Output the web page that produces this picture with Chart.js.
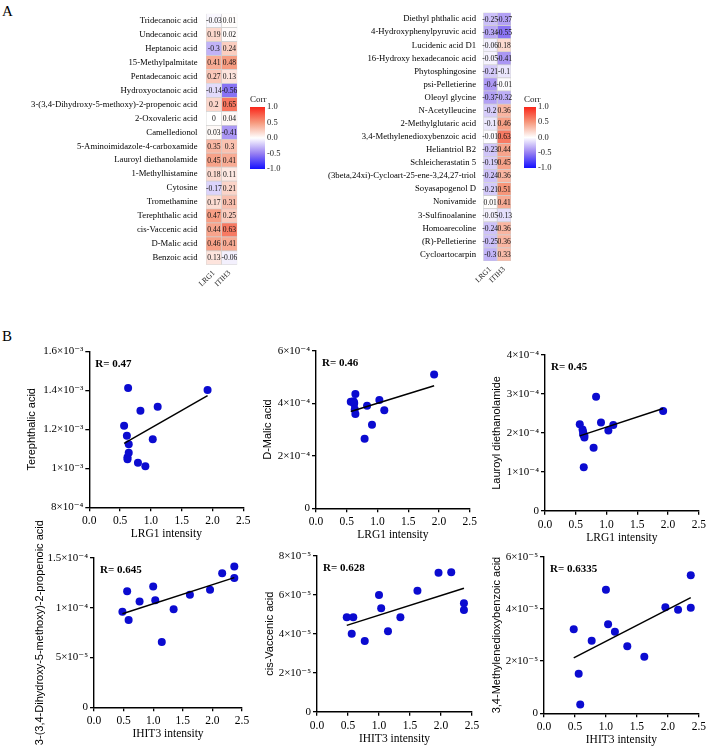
<!DOCTYPE html>
<html><head><meta charset="utf-8">
<script src="https://cdn.jsdelivr.net/npm/chart.js@4.4.1/dist/chart.umd.min.js"></script>
<style>
html,body{margin:0;padding:0;background:#fff;}
#wrap{position:relative;width:709px;height:746px;overflow:hidden;background:#fff;}
#wrap canvas{position:absolute;left:0;top:0;}
.panel{position:absolute;font:15px 'Liberation Serif','Times New Roman',serif;line-height:1;color:#000;}
</style></head><body>
<div id="wrap">
<div class="panel" style="left:2px;top:4px">A</div>
<div class="panel" style="left:2px;top:329px">B</div>
</div>
<script>
// ---------- Heatmap data (panel A) ----------
const columnLabels = ['LRG1', 'ITIH3'];

const metabolitesLeft = ['Tridecanoic acid','Undecanoic acid','Heptanoic acid','15-Methylpalmitate','Pentadecanoic acid','Hydroxyoctanoic acid','3-(3,4-Dihydroxy-5-methoxy)-2-propenoic acid','2-Oxovaleric acid','Camelledionol','5-Aminoimidazole-4-carboxamide','Lauroyl diethanolamide','1-Methylhistamine','Cytosine','Tromethamine','Terephthalic acid','cis-Vaccenic acid','D-Malic acid','Benzoic acid'];
const lrg1Left  = [-0.03,0.19,-0.3,0.41,0.27,-0.14,0.2,0,0.03,0.35,0.45,0.18,-0.17,0.17,0.47,0.44,0.46,0.13];
const itih3Left = [0.01,0.02,0.24,0.48,0.13,-0.56,0.65,0.04,-0.41,0.3,0.41,0.11,0.21,0.31,0.25,0.63,0.41,-0.06];

const metabolitesRight = ['Diethyl phthalic acid','4-Hydroxyphenylpyruvic acid','Lucidenic acid D1','16-Hydroxy hexadecanoic acid','Phytosphingosine','psi-Pelletierine','Oleoyl glycine','N-Acetylleucine','2-Methylglutaric acid','3,4-Methylenedioxybenzoic acid','Heliantriol B2','Schleicherastatin 5','(3beta,24xi)-Cycloart-25-ene-3,24,27-triol','Soyasapogenol D','Nonivamide','3-Sulfinoalanine','Homoarecoline','(R)-Pelletierine','Cycloartocarpin'];
const lrg1Right  = [-0.25,-0.34,-0.06,-0.05,-0.21,-0.4,-0.37,-0.2,-0.1,-0.01,-0.23,-0.19,-0.24,-0.21,0.01,-0.05,-0.24,-0.25,-0.3];
const itih3Right = [-0.37,-0.55,0.18,-0.41,-0.1,-0.01,-0.32,0.36,0.46,0.63,0.44,0.45,0.36,0.51,0.41,-0.13,0.36,0.36,0.33];

const colorbarTicks = [-1, -0.5, 0, 0.5, 1];
const colorbarLabels = ['-1.0', '-0.5', '0.0', '0.5', '1.0'];

// ---------- Scatter data (panel B) ----------
const xTickValues = [0, 0.5, 1, 1.5, 2, 2.5];
const xTickLabels = ['0.0', '0.5', '1.0', '1.5', '2.0', '2.5'];

const lrg1Intensity = [0.565, 0.61, 0.62, 0.62, 0.63, 0.64, 0.64, 0.79, 0.83, 0.91, 1.03, 1.11, 1.92];
const terephthalicAcid = [1.218e-3, 1.167e-3, 1.057e-3, 1.047e-3, 1.412e-3, 1.123e-3, 1.080e-3, 1.029e-3, 1.295e-3, 1.010e-3, 1.149e-3, 1.316e-3, 1.401e-3];
const dMalicAcid = [4.06e-4, 4.08e-4, 4.02e-4, 3.98e-4, 3.77e-4, 3.59e-4, 4.35e-4, 2.65e-4, 3.91e-4, 3.18e-4, 4.13e-4, 3.74e-4, 5.10e-4];
const lauroylDiethanolamide = [2.22e-4, 2.09e-4, 2.02e-4, 1.96e-4, 1.12e-4, 1.88e-4, 1.93e-4, 1.62e-4, 2.93e-4, 2.27e-4, 2.06e-4, 2.20e-4, 2.56e-4];

const ihit3Intensity = [0.48, 0.56, 0.585, 0.77, 1.0, 1.035, 1.145, 1.345, 1.62, 1.96, 2.165, 2.37, 2.37];
const dihydroxyPropenoic = [0.959e-4, 1.167e-4, 0.878e-4, 1.062e-4, 1.213e-4, 1.076e-4, 0.657e-4, 0.986e-4, 1.130e-4, 1.180e-4, 1.348e-4, 1.414e-4, 1.298e-4];
const cisVaccenicAcid = [4.84e-5, 4.00e-5, 4.84e-5, 3.63e-5, 5.98e-5, 5.30e-5, 4.12e-5, 4.84e-5, 6.20e-5, 7.13e-5, 7.15e-5, 5.56e-5, 5.22e-5];
const methylenedioxybenzoic = [3.22e-5, 1.52e-5, 0.34e-5, 2.78e-5, 4.74e-5, 3.41e-5, 3.13e-5, 2.57e-5, 2.17e-5, 4.07e-5, 3.97e-5, 5.29e-5, 4.05e-5];

const ticksTerephthalic = [8e-4, 1e-3, 1.2e-3, 1.4e-3, 1.6e-3];
const labelsTerephthalic = ['8×10⁻⁴', '1×10⁻³', '1.2×10⁻³', '1.4×10⁻³', '1.6×10⁻³'];
const ticksDMalic = [0, 2e-4, 4e-4, 6e-4];
const labelsDMalic = ['0', '2×10⁻⁴', '4×10⁻⁴', '6×10⁻⁴'];
const ticksLauroyl = [0, 1e-4, 2e-4, 3e-4, 4e-4];
const labelsLauroyl = ['0', '1×10⁻⁴', '2×10⁻⁴', '3×10⁻⁴', '4×10⁻⁴'];
const ticksDihydroxy = [0, 5e-5, 1e-4, 1.5e-4];
const labelsDihydroxy = ['0', '5×10⁻⁵', '1×10⁻⁴', '1.5×10⁻⁴'];
const ticksVaccenic = [0, 2e-5, 4e-5, 6e-5, 8e-5];
const labelsVaccenic = ['0', '2×10⁻⁵', '4×10⁻⁵', '6×10⁻⁵', '8×10⁻⁵'];
const ticksMethylene = [0, 2e-5, 4e-5, 6e-5];
const labelsMethylene = ['0', '2×10⁻⁵', '4×10⁻⁵', '6×10⁻⁵'];

// ---------- helpers ----------
const SERIF = "'Liberation Serif','Times New Roman','DejaVu Serif',serif";
const SANS = "'Liberation Sans',Arial,'DejaVu Sans',sans-serif";
const W = 709, H = 746;
Chart.defaults.font.family = SERIF;
Chart.defaults.color = '#000';
Chart.defaults.animation = false;
Chart.defaults.events = [];
Chart.defaults.plugins.legend.display = false;
Chart.defaults.plugins.tooltip.enabled = false;

const wrap = document.getElementById('wrap');
function newCtx() {
  const c = document.createElement('canvas');
  c.width = W; c.height = H;
  c.style.width = W + 'px'; c.style.height = H + 'px';
  wrap.appendChild(c);
  return c.getContext('2d');
}

const cStops = [-1, -0.5, 0, 0.5, 1];
const cRGB = [[20,16,255],[152,128,242],[255,255,255],[246,152,124],[250,38,26]];
function corrColor(v) {
  v = Math.max(-1, Math.min(1, v));
  let i = 0;
  while (i < cStops.length - 2 && v > cStops[i + 1]) i++;
  const t = (v - cStops[i]) / (cStops[i + 1] - cStops[i]);
  const a = cRGB[i], b = cRGB[i + 1];
  const c = a.map((av, k) => Math.round(av + (b[k] - av) * t));
  return `rgb(${c[0]},${c[1]},${c[2]})`;
}

const cellLabelPlugin = {
  id: 'cellLabels',
  afterDatasetsDraw(chart) {
    const ctx = chart.ctx;
    ctx.save();
    ctx.font = `7.6px ${SERIF}`;
    ctx.fillStyle = '#111';
    ctx.textAlign = 'center';
    ctx.textBaseline = 'middle';
    chart.data.datasets.forEach((ds, di) => {
      const meta = chart.getDatasetMeta(di);
      meta.data.forEach((el, i) => {
        const p = el.getCenterPoint();
        ctx.fillText(String(ds.corr[i]), p.x, p.y + 0.5);
      });
    });
    ctx.restore();
  }
};

function heatmap(rows, col1, col2, area, labelPad) {
  const yW = 200, xH = 30;
  new Chart(newCtx(), {
    type: 'bar',
    data: {
      labels: rows,
      datasets: [col1, col2].map((vals, k) => ({
        label: columnLabels[k],
        data: vals.map(() => 1),
        corr: vals,
        backgroundColor: vals.map(corrColor),
        borderColor: '#cfcfcf',
        borderWidth: 0.7,
        borderSkipped: false,
        barPercentage: 1,
        categoryPercentage: 1
      }))
    },
    options: {
      responsive: false, devicePixelRatio: 1, indexAxis: 'y',
      layout: { padding: { left: area.l - yW, right: W - area.r, top: area.t, bottom: H - area.b - xH } },
      scales: {
        x: {
          stacked: true, min: 0, max: 2,
          afterBuildTicks: s => { s.ticks = [{ value: 0.5 }, { value: 1.5 }]; },
          afterFit: s => { s.height = xH; },
          ticks: { callback: v => columnLabels[Math.floor(v)], minRotation: 45, maxRotation: 45, autoSkip: false, padding: 4, font: { size: 7.6 }, color: '#222' },
          grid: { display: false, drawTicks: false },
          border: { display: false }
        },
        y: {
          stacked: true,
          afterFit: s => { s.width = yW; },
          ticks: { autoSkip: false, padding: labelPad, font: { size: 8.7 }, color: '#000' },
          grid: { display: false, drawTicks: false },
          border: { display: false }
        }
      }
    },
    plugins: [cellLabelPlugin]
  });
}

function colorbar(area) {
  const yW = 22, titleH = 12.8;
  new Chart(newCtx(), {
    type: 'bar',
    data: {
      labels: ['Corr'],
      datasets: [{
        data: [[colorbarTicks[0], colorbarTicks[colorbarTicks.length - 1]]],
        barPercentage: 1, categoryPercentage: 1, borderWidth: 0,
        backgroundColor: (c) => {
          const ch = c.chart;
          if (!ch.chartArea) return '#fff';
          const y = ch.scales.y;
          const g = ch.ctx.createLinearGradient(0, y.getPixelForValue(-1), 0, y.getPixelForValue(1));
          cStops.forEach((s, i) => g.addColorStop((s + 1) / 2, `rgb(${cRGB[i].join(',')})`));
          return g;
        }
      }]
    },
    options: {
      responsive: false, devicePixelRatio: 1,
      layout: { padding: { left: area.l, right: W - area.r - yW, top: area.t - titleH, bottom: H - area.b } },
      plugins: { title: { display: true, text: 'Corr', align: 'start', color: '#222', font: { size: 9, weight: 'normal', family: SERIF }, padding: { top: 0, bottom: 2 } } },
      scales: {
        x: { display: false },
        y: {
          position: 'right', min: -1, max: 1,
          afterBuildTicks: s => { s.ticks = colorbarTicks.map(v => ({ value: v })); },
          afterFit: s => { s.width = yW; },
          ticks: { callback: v => colorbarLabels[colorbarTicks.indexOf(v)], padding: 2, font: { size: 8.5 }, color: '#222' },
          grid: { display: false, drawTicks: false },
          border: { display: false }
        }
      }
    }
  });
}

const rLabelPlugin = {
  id: 'rLabel',
  afterDraw(chart, args, opts) {
    const ctx = chart.ctx, a = chart.chartArea;
    ctx.save();
    ctx.font = `bold 11px ${SERIF}`;
    ctx.fillStyle = '#000';
    ctx.textBaseline = 'middle';
    ctx.textAlign = 'left';
    ctx.fillText(opts.text, a.left + 6, a.top + 12.5);
    ctx.restore();
  }
};

function linearFit(xs, ys) {
  const n = xs.length;
  const mx = xs.reduce((s, v) => s + v, 0) / n;
  const my = ys.reduce((s, v) => s + v, 0) / n;
  let sxy = 0, sxx = 0;
  xs.forEach((x, i) => { sxy += (x - mx) * (ys[i] - my); sxx += (x - mx) * (x - mx); });
  const b = sxy / sxx, a = my - b * mx;
  const x0 = Math.min(...xs), x1 = Math.max(...xs);
  return [{ x: x0, y: a + b * x0 }, { x: x1, y: a + b * x1 }];
}

function scatter(cfg) {
  const { xs, ys, xTitle, yTitle, yTicks, yLabels, rText, area, yW } = cfg;
  const xH = 34;
  const axisStyle = {
    grid: { drawOnChartArea: false, drawTicks: true, tickLength: 4, color: '#000', lineWidth: 1.3 },
    border: { display: true, color: '#000', width: 1.4 }
  };
  new Chart(newCtx(), {
    type: 'scatter',
    data: {
      datasets: [
        { data: linearFit(xs, ys), type: 'line', showLine: true, borderColor: '#000', borderWidth: 1.5, pointRadius: 0, fill: false, order: 0, clip: false },
        { data: xs.map((x, i) => ({ x, y: ys[i] })), pointRadius: 4, pointBackgroundColor: '#0b0bd0', pointBorderWidth: 0, order: 1, clip: false }
      ]
    },
    options: {
      responsive: false, devicePixelRatio: 1,
      layout: { padding: { left: area.l - yW, right: W - area.r, top: area.t, bottom: H - area.b - xH } },
      plugins: { rLabel: { text: rText } },
      scales: {
        x: Object.assign({
          type: 'linear', min: xTickValues[0], max: xTickValues[xTickValues.length - 1],
          afterBuildTicks: s => { s.ticks = xTickValues.map(v => ({ value: v })); },
          afterFit: s => { s.height = xH; },
          ticks: { callback: v => xTickLabels[xTickValues.indexOf(v)], padding: 3, font: { size: 11.5 }, color: '#000', maxRotation: 0, autoSkip: false },
          title: { display: true, text: xTitle, padding: 0, font: { size: 11.5, family: SERIF }, color: '#000' }
        }, axisStyle),
        y: Object.assign({
          type: 'linear', min: yTicks[0], max: yTicks[yTicks.length - 1],
          afterBuildTicks: s => { s.ticks = yTicks.map(v => ({ value: v })); },
          afterFit: s => { s.width = yW; },
          ticks: { callback: v => yLabels[yTicks.indexOf(v)], padding: 2, font: { size: 11 }, color: '#000', autoSkip: false },
          title: { display: true, text: yTitle, padding: 0, font: { size: 11, family: SANS }, color: '#000' }
        }, axisStyle)
      }
    },
    plugins: [rLabelPlugin]
  });
}

// ---------- Panel A ----------
heatmap(metabolitesLeft, lrg1Left, itih3Left, { l: 206, r: 237.3, t: 2, b: 264.8 }, 8.5);
colorbar({ l: 250, r: 265, t: 107, b: 169 });
heatmap(metabolitesRight, lrg1Right, itih3Right, { l: 483.3, r: 511, t: 4.2, b: 261 }, 7.3);
colorbar({ l: 524, r: 536, t: 107, b: 168 });

// ---------- Panel B ----------
scatter({ xs: lrg1Intensity, ys: terephthalicAcid, xTitle: 'LRG1 intensity', yTitle: 'Terephthalic acid', yTicks: ticksTerephthalic, yLabels: labelsTerephthalic, rText: 'R= 0.47', area: { l: 89.3, r: 243.3, t: 351.3, b: 507.3 }, yW: 64.2 });
scatter({ xs: lrg1Intensity, ys: dMalicAcid, xTitle: 'LRG1 intensity', yTitle: 'D-Malic acid', yTicks: ticksDMalic, yLabels: labelsDMalic, rText: 'R= 0.46', area: { l: 316, r: 469.8, t: 350.8, b: 508.3 }, yW: 54.3 });
scatter({ xs: lrg1Intensity, ys: lauroylDiethanolamide, xTitle: 'LRG1 intensity', yTitle: 'Lauroyl diethanolamide', yTicks: ticksLauroyl, yLabels: labelsLauroyl, rText: 'R= 0.45', area: { l: 545, r: 700.7, t: 355.1, b: 510.7 }, yW: 54.3 });
scatter({ xs: ihit3Intensity, ys: dihydroxyPropenoic, xTitle: 'IHIT3 intensity', yTitle: '3-(3,4-Dihydroxy-5-methoxy)-2-propenoic acid', yTicks: ticksDihydroxy, yLabels: labelsDihydroxy, rText: 'R= 0.645', area: { l: 94, r: 242, t: 558, b: 707.3 }, yW: 60.6 });
scatter({ xs: ihit3Intensity, ys: cisVaccenicAcid, xTitle: 'IHIT3 intensity', yTitle: 'cis-Vaccenic acid', yTicks: ticksVaccenic, yLabels: labelsVaccenic, rText: 'R= 0.628', area: { l: 317, r: 472, t: 555.7, b: 711.7 }, yW: 53.6 });
scatter({ xs: ihit3Intensity, ys: methylenedioxybenzoic, xTitle: 'IHIT3 intensity', yTitle: '3,4-Methylenedioxybenzoic acid', yTicks: ticksMethylene, yLabels: labelsMethylene, rText: 'R= 0.6335', area: { l: 544, r: 699, t: 556.8, b: 713.3 }, yW: 53.3 });
</script>
</body></html>
